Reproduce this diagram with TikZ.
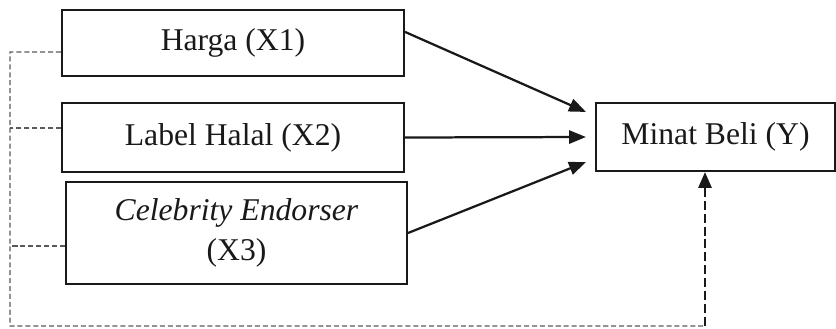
\documentclass[tikz,border=0pt]{standalone}
\usepackage{fontspec}
\setmainfont{Liberation Serif}
\usepackage{tikz}
\usetikzlibrary{positioning,arrows.meta}
\newcommand{\varnode}[3]{
\node (#1) [#2]{#3};}
\tikzstyle{varbox}=[rectangle, draw=black!90, line width=0.8pt, text=black!90,
        font=\fontsize{12}{15}\selectfont, align=center, inner sep=0pt,
        minimum width=129.6pt, minimum height=25pt]
\tikzstyle{depbox}=[varbox, minimum width=90.6pt, minimum height=25.8pt]
\tikzstyle{line}=[line width=0.85pt, black!90, -{Triangle[length=6.4pt,width=5pt]}]
\tikzstyle{guide}=[line width=0.45pt, black!65, dash pattern=on 1.9pt off 1.1pt]
\tikzstyle{backline}=[line width=0.85pt, black!90, dash pattern=on 3.4pt off 1.5pt,
        -{Triangle[length=6pt,width=5pt]}]
\begin{document}
\begin{tikzpicture}[x=0.379pt, y=-0.379pt]
\useasboundingbox (0,0) rectangle (836,328);

\varnode{Harga}{varbox, at={(233,43)}}{Harga (X1)}
\varnode{Label}{varbox, at={(233,137.5)}, minimum height=26.1pt}{Label Halal (X2)}
\varnode{Celebrity}{varbox, at={(236.5,233)}, minimum width=129.2pt, minimum height=38.7pt}{\textit{Celebrity Endorser}\\(X3)}
\varnode{Minat}{depbox, at={(715.5,137)}}{Minat Beli (Y)}

\coordinate (top) at (10,52);
\coordinate (corner) at (10,326);
\coordinate (turn) at (705,326);

% draw lines
\draw[line] ([yshift=4.2pt]Harga.east) -- ([xshift=-3.4pt,yshift=9.5pt]Minat.west);
\draw[line] (Label.east) -- ([xshift=-3.4pt]Minat.west);
\draw[line] (Celebrity.east) -- ([xshift=-3.4pt,yshift=-9.5pt]Minat.west);
\draw[guide] ([yshift=-3.4pt]Harga.west) -- (top) -- (corner) -- (turn);
\draw[guide] ([yshift=3.6pt]Label.west) -- ([yshift=3.6pt]Label.west -| top);
\draw[guide] ([yshift=-4.9pt]Celebrity.west) -- ([yshift=-4.9pt]Celebrity.west -| top);
\draw[backline] (turn) -- (turn |- Minat.south);

\end{tikzpicture}
\end{document}
